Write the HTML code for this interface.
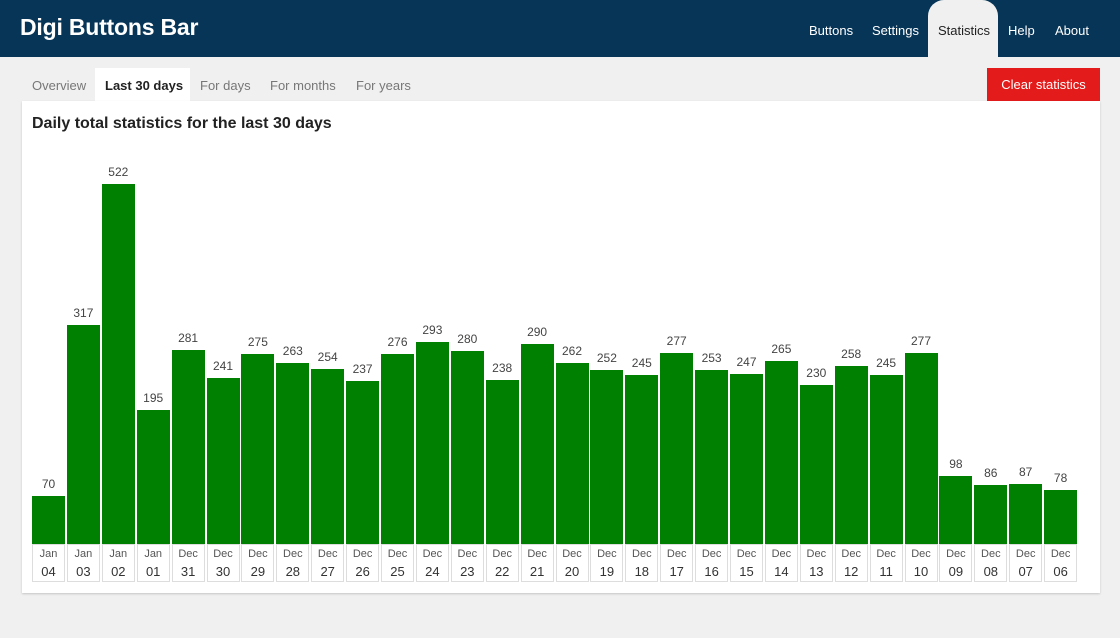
<!DOCTYPE html>
<html><head><meta charset="utf-8">
<style>
*{margin:0;padding:0;box-sizing:border-box}
html,body{width:1120px;height:638px;overflow:hidden;background:#f0f0f0;font-family:"Liberation Sans",sans-serif;position:relative}
.hdr{position:absolute;left:0;top:0;width:1120px;height:57px;background:#073557}
.logo{position:absolute;left:20px;top:14px;font-size:23px;font-weight:bold;color:#fff;letter-spacing:-0.2px}
.nav{position:absolute;top:23px;font-size:13px;color:#fff}
.navact{position:absolute;left:928px;top:0;width:70px;height:57px;background:#f0f0f0;border-radius:16px 16px 0 0}
.tab{position:absolute;top:78px;font-size:13px;color:#777}
.tabact{position:absolute;left:95px;top:68px;width:95px;height:33px;background:#fff}
.btn{position:absolute;left:987px;top:68px;width:113px;height:33px;background:#e31b1b;color:#fff;font-size:13px;line-height:33px;text-align:center}
.card{position:absolute;left:22px;top:101px;width:1078px;height:492px;background:#fff;box-shadow:0 1px 2px rgba(0,0,0,.18)}
.title{position:absolute;left:32px;top:115px;font-size:16px;font-weight:bold;color:#222;white-space:nowrap}
.col{position:absolute;top:140px;width:33px;height:404px;display:flex;flex-direction:column;justify-content:flex-end;align-items:center}
.v{font-size:12px;line-height:14px;color:#444;margin-bottom:5px}
.b{width:33px;background:#008000;height:calc(var(--v) * 0.6897px)}
.lb{position:absolute;top:544px;width:33px;height:38px;border:1px solid #ddd;text-align:center}
.lb .m{font-size:11px;line-height:18px;color:#555;display:block}
.lb .d{font-size:13px;line-height:18px;color:#333;display:block}
</style></head><body>
<div class="hdr"></div>
<div class="logo">Digi Buttons Bar</div>
<div class="navact"></div>
<div class="nav" style="left:809px">Buttons</div>
<div class="nav" style="left:872px">Settings</div>
<div class="nav" style="left:938px;color:#222">Statistics</div>
<div class="nav" style="left:1008px">Help</div>
<div class="nav" style="left:1055px">About</div>

<div class="tabact"></div>
<div class="tab" style="left:32px">Overview</div>
<div class="tab" style="left:105px;color:#222;font-weight:bold">Last 30 days</div>
<div class="tab" style="left:200px">For days</div>
<div class="tab" style="left:270px">For months</div>
<div class="tab" style="left:356px">For years</div>
<div class="btn">Clear statistics</div>

<div class="card"></div>
<div class="title">Daily total statistics for the last 30 days</div>

<div class="col" style="left:32px"><span class="v">70</span><div class="b" style="--v:70"></div></div>
<div class="col" style="left:66.9px"><span class="v">317</span><div class="b" style="--v:317"></div></div>
<div class="col" style="left:101.8px"><span class="v">522</span><div class="b" style="--v:522"></div></div>
<div class="col" style="left:136.7px"><span class="v">195</span><div class="b" style="--v:195"></div></div>
<div class="col" style="left:171.6px"><span class="v">281</span><div class="b" style="--v:281"></div></div>
<div class="col" style="left:206.5px"><span class="v">241</span><div class="b" style="--v:241"></div></div>
<div class="col" style="left:241.4px"><span class="v">275</span><div class="b" style="--v:275"></div></div>
<div class="col" style="left:276.3px"><span class="v">263</span><div class="b" style="--v:263"></div></div>
<div class="col" style="left:311.2px"><span class="v">254</span><div class="b" style="--v:254"></div></div>
<div class="col" style="left:346.1px"><span class="v">237</span><div class="b" style="--v:237"></div></div>
<div class="col" style="left:381px"><span class="v">276</span><div class="b" style="--v:276"></div></div>
<div class="col" style="left:415.9px"><span class="v">293</span><div class="b" style="--v:293"></div></div>
<div class="col" style="left:450.8px"><span class="v">280</span><div class="b" style="--v:280"></div></div>
<div class="col" style="left:485.7px"><span class="v">238</span><div class="b" style="--v:238"></div></div>
<div class="col" style="left:520.6px"><span class="v">290</span><div class="b" style="--v:290"></div></div>
<div class="col" style="left:555.5px"><span class="v">262</span><div class="b" style="--v:262"></div></div>
<div class="col" style="left:590.4px"><span class="v">252</span><div class="b" style="--v:252"></div></div>
<div class="col" style="left:625.3px"><span class="v">245</span><div class="b" style="--v:245"></div></div>
<div class="col" style="left:660.2px"><span class="v">277</span><div class="b" style="--v:277"></div></div>
<div class="col" style="left:695.1px"><span class="v">253</span><div class="b" style="--v:253"></div></div>
<div class="col" style="left:730px"><span class="v">247</span><div class="b" style="--v:247"></div></div>
<div class="col" style="left:764.9px"><span class="v">265</span><div class="b" style="--v:265"></div></div>
<div class="col" style="left:799.8px"><span class="v">230</span><div class="b" style="--v:230"></div></div>
<div class="col" style="left:834.7px"><span class="v">258</span><div class="b" style="--v:258"></div></div>
<div class="col" style="left:869.6px"><span class="v">245</span><div class="b" style="--v:245"></div></div>
<div class="col" style="left:904.5px"><span class="v">277</span><div class="b" style="--v:277"></div></div>
<div class="col" style="left:939.4px"><span class="v">98</span><div class="b" style="--v:98"></div></div>
<div class="col" style="left:974.3px"><span class="v">86</span><div class="b" style="--v:86"></div></div>
<div class="col" style="left:1009.2px"><span class="v">87</span><div class="b" style="--v:87"></div></div>
<div class="col" style="left:1044.1px"><span class="v">78</span><div class="b" style="--v:78"></div></div>

<div class="lb" style="left:32px"><span class="m">Jan</span><span class="d">04</span></div>
<div class="lb" style="left:66.9px"><span class="m">Jan</span><span class="d">03</span></div>
<div class="lb" style="left:101.8px"><span class="m">Jan</span><span class="d">02</span></div>
<div class="lb" style="left:136.7px"><span class="m">Jan</span><span class="d">01</span></div>
<div class="lb" style="left:171.6px"><span class="m">Dec</span><span class="d">31</span></div>
<div class="lb" style="left:206.5px"><span class="m">Dec</span><span class="d">30</span></div>
<div class="lb" style="left:241.4px"><span class="m">Dec</span><span class="d">29</span></div>
<div class="lb" style="left:276.3px"><span class="m">Dec</span><span class="d">28</span></div>
<div class="lb" style="left:311.2px"><span class="m">Dec</span><span class="d">27</span></div>
<div class="lb" style="left:346.1px"><span class="m">Dec</span><span class="d">26</span></div>
<div class="lb" style="left:381px"><span class="m">Dec</span><span class="d">25</span></div>
<div class="lb" style="left:415.9px"><span class="m">Dec</span><span class="d">24</span></div>
<div class="lb" style="left:450.8px"><span class="m">Dec</span><span class="d">23</span></div>
<div class="lb" style="left:485.7px"><span class="m">Dec</span><span class="d">22</span></div>
<div class="lb" style="left:520.6px"><span class="m">Dec</span><span class="d">21</span></div>
<div class="lb" style="left:555.5px"><span class="m">Dec</span><span class="d">20</span></div>
<div class="lb" style="left:590.4px"><span class="m">Dec</span><span class="d">19</span></div>
<div class="lb" style="left:625.3px"><span class="m">Dec</span><span class="d">18</span></div>
<div class="lb" style="left:660.2px"><span class="m">Dec</span><span class="d">17</span></div>
<div class="lb" style="left:695.1px"><span class="m">Dec</span><span class="d">16</span></div>
<div class="lb" style="left:730px"><span class="m">Dec</span><span class="d">15</span></div>
<div class="lb" style="left:764.9px"><span class="m">Dec</span><span class="d">14</span></div>
<div class="lb" style="left:799.8px"><span class="m">Dec</span><span class="d">13</span></div>
<div class="lb" style="left:834.7px"><span class="m">Dec</span><span class="d">12</span></div>
<div class="lb" style="left:869.6px"><span class="m">Dec</span><span class="d">11</span></div>
<div class="lb" style="left:904.5px"><span class="m">Dec</span><span class="d">10</span></div>
<div class="lb" style="left:939.4px"><span class="m">Dec</span><span class="d">09</span></div>
<div class="lb" style="left:974.3px"><span class="m">Dec</span><span class="d">08</span></div>
<div class="lb" style="left:1009.2px"><span class="m">Dec</span><span class="d">07</span></div>
<div class="lb" style="left:1044.1px"><span class="m">Dec</span><span class="d">06</span></div>
</body></html>
